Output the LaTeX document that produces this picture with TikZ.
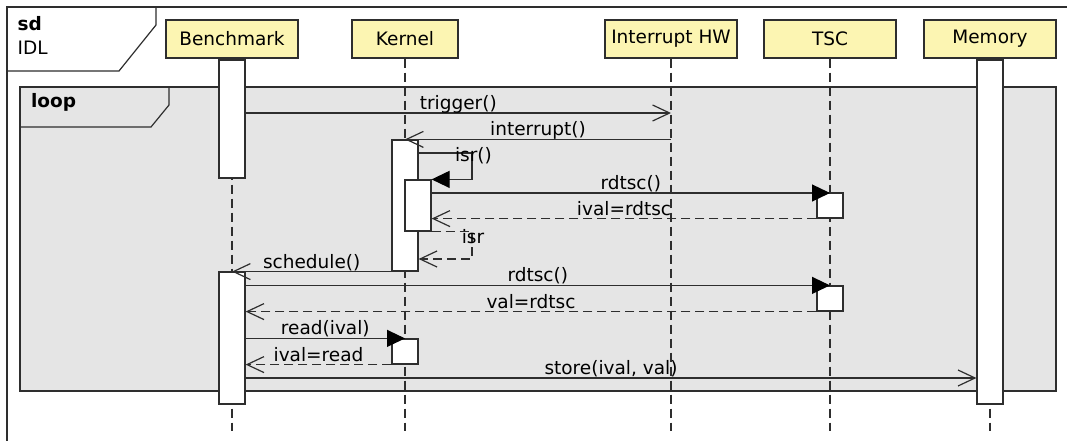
\documentclass[tikz,border=0pt]{standalone}
\usepackage{fontspec}
\setmainfont{DejaVu Sans}
\usetikzlibrary{arrows.meta}
\definecolor{linec}{HTML}{2E2E2E}
\definecolor{headfill}{HTML}{FCF5B2}
\definecolor{loopfill}{HTML}{E5E5E5}
\begin{document}
\begin{tikzpicture}[x=1pt,y=-1pt,line width=1.2pt,
  every node/.style={font=\fontsize{18.5}{22}\selectfont,inner sep=0pt,text=black},
  head/.style={draw=linec,fill=headfill,minimum height=38pt,minimum width=132pt},
  lifeline/.style={draw=linec,dash pattern=on 9pt off 5pt},
  act/.style={draw=linec,fill=white,minimum width=26pt},
  call/.style={draw=linec,-{Triangle[length=18pt,width=17pt,black]}},
  async/.style={draw=linec,-{Straight Barb[length=17pt,width=16pt]}},
  reply/.style={draw=linec,dash pattern=on 9pt off 5pt,-{Straight Barb[length=17pt,width=16pt]}},
  lbl/.style={anchor=base,yshift=3.5pt},
  bold/.style={font=\fontsize{18.5}{22}\selectfont\bfseries}
]
\useasboundingbox (0,0) rectangle (1067,441);
\clip (0,0) rectangle (1067,441);

% outer sequence-diagram frame with its name tab
\draw[linec,fill=white] (7,7) rectangle (1080,460);
\draw[linec] (7,71) -- (119,71) -- (156,25) -- (156,7);
\node[bold,anchor=base west] (sdkw) at (17,30.5) {sd};
\node[anchor=base west] (sdname) at (17,54.5) {IDL};

% loop combined fragment
\draw[linec,fill=loopfill] (20,87) rectangle (1056,391);
\draw[linec] (20,127) -- (151,127) -- (169,105) -- (169,87);
\node[bold,anchor=base west] (loopkw) at (30.5,108) {loop};

% participants
\node[head] (bm) at (232,39) {Benchmark};
\node[head,minimum width=106pt] (kern) at (405,39) {Kernel};
\node[head] (hw) at (671,39) {Interrupt HW};
\node[head] (tsc) at (830,39) {TSC};
\node[head] (mem) at (990,39) {Memory};

% lifelines
\coordinate (bottom) at (0,431);
\foreach \p in {bm,kern,hw,tsc,mem}
  \draw[lifeline] (\p.south) -- (\p.south |- bottom);

% activations
\node[act,minimum height=118pt] (b1) at (232,119) {};
\node[act,minimum height=132pt] (b2) at (232,338) {};
\node[act,minimum height=131pt] (k1) at (405,205.5) {};
\node[act,minimum height=51pt]  (k2) at (418,205.5) {};
\node[act,minimum height=25pt]  (k3) at (405,351.5) {};
\node[act,minimum height=25pt]  (t1) at (830,205.5) {};
\node[act,minimum height=25pt]  (t2) at (830,298.5) {};
\node[act,minimum height=344pt] (m1) at (990,232) {};

% messages
\coordinate (turn) at (472,0);
\draw[async] (b1.east |- 0,113) -- node[lbl,midway] {trigger()} (hw.south |- 0,113);
\draw[async] (hw.south |- k1.north) -- node[lbl,midway] {interrupt()} (kern.south |- k1.north);
\draw[call] (k1.east |- 0,153) -- (turn |- 0,153) -- (turn |- k2.north) -- (k2.north east);
\node[anchor=base] (isrcall) at (473.5,161) {isr()};
\draw[call] (k2.east |- 0,193) -- node[lbl,midway] {rdtsc()} (tsc.south |- 0,193);
\draw[reply] (t1.south west) -- node[lbl,midway] {ival=rdtsc} (k2.east |- t1.south west);
\draw[reply] (k2.south east) -- (turn |- k2.south east) -- (turn |- 0,259) -- (k1.east |- 0,259);
\node[anchor=base] (isrret) at (473,243.5) {isr};
\draw[async] (k1.south west) -- node[lbl,midway] {schedule()} (bm.south |- k1.south west);
\draw[call] (b2.east |- t2.north) -- node[lbl,midway] {rdtsc()} (tsc.south |- t2.north);
\draw[reply] (t2.south west) -- node[lbl,midway] {val=rdtsc} (b2.east |- t2.south west);
\draw[call] (b2.east |- k3.north) -- node[lbl,midway] {read(ival)} (kern.south |- k3.north);
\draw[reply] (k3.south west) -- node[lbl,midway] {ival=read} (b2.east |- k3.south west);
\draw[async] (b2.east |- 0,378) -- node[lbl,midway] {store(ival, val)} (m1.west |- 0,378);
\end{tikzpicture}
\end{document}
